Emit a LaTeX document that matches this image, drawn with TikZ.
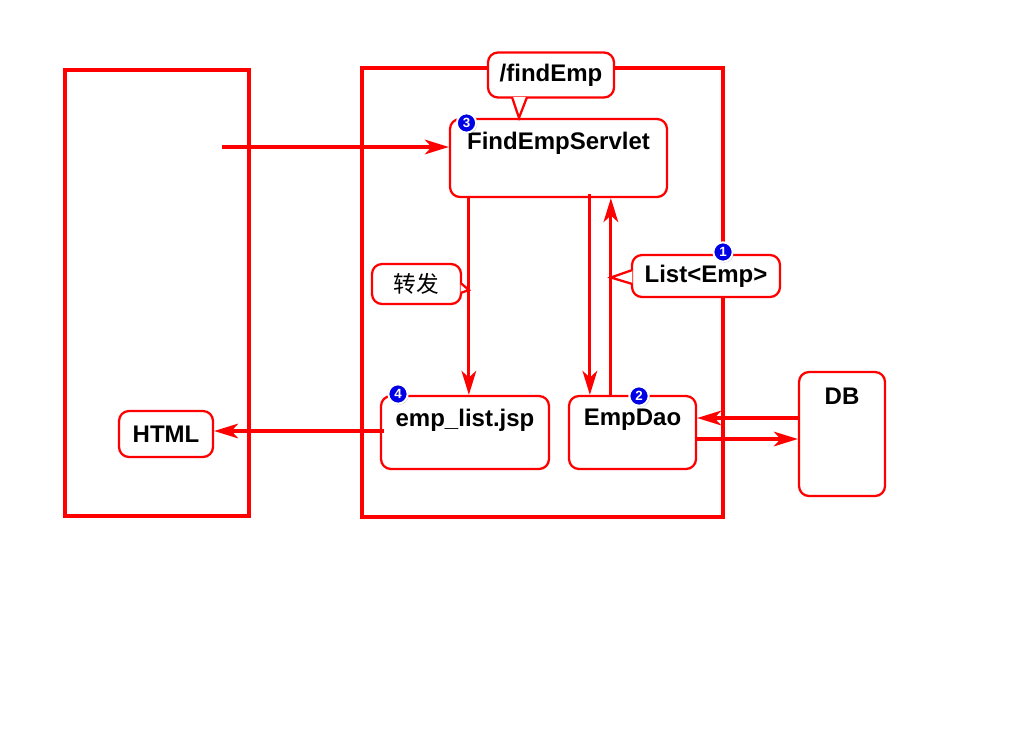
\documentclass[tikz,border=0pt]{standalone}
\usepackage{fontspec}
\setmainfont{Liberation Sans}
\newfontfamily\cjkfont{Noto Sans CJK SC}
\usepackage{tikz}
\usetikzlibrary{calc}
\usetikzlibrary{positioning}
\usetikzlibrary{arrows.meta}
\usetikzlibrary{shadows}
\definecolor{lineColor}{HTML}{FF0000}
\definecolor{badgeColor}{HTML}{0000E6}

\begin{document}
\begin{tikzpicture}[
		x=0.75pt, y=-0.75pt,
		arrow/.style={-{Stealth[length=18pt, width=11pt, inset=5pt]}, draw=lineColor, line width=2.3pt},
		frame/.style={rectangle, draw=lineColor, line width=2.6pt},
		box/.style={rectangle, rounded corners=7.5pt, draw=lineColor, line width=1.7pt, fill=white, font=\bfseries\fontsize{18}{21}\selectfont},
		title/.style={anchor=center, yshift=-19pt, font=\bfseries\fontsize{18}{21}\selectfont},
		note/.style={box, inner sep=0pt},
		pointer/.style={draw=lineColor, fill=white, line width=1.7pt, line join=miter},
		badge/.style={circle, fill=badgeColor, draw=white, line width=1.5pt, inner sep=0pt, minimum size=14.5pt, text=white, font=\bfseries\fontsize{10}{10}\selectfont, drop shadow={shadow xshift=0.8pt, shadow yshift=-0.8pt, opacity=0.45}},
	]
	\useasboundingbox (0,0) rectangle (1024,728);
	% Frames
	\node[frame, minimum width=138pt, minimum height=334.5pt] (browser) at (157,293) {};
	\node[frame, minimum width=270.75pt, minimum height=336.75pt] (server) at (542.5,292.5) {};
	% Component boxes
	\node[box, minimum width=162.75pt, minimum height=58.5pt, label={[title]north:FindEmpServlet}] (servlet) at (558.5,158) {};
	\node[box, minimum width=126pt, minimum height=54.75pt, label={[title]north:emp\_list.jsp}] (jsp page) at (465,432.5) {};
	\node[box, minimum width=95.25pt, minimum height=54.75pt, label={[title]north:EmpDao}] (dao) at (632.5,432.5) {};
	\node[box, minimum width=64.5pt, minimum height=93pt, label={[title]north:DB}] (db) at (842,434) {};
	\node[box, minimum width=70.5pt, minimum height=34.5pt] (html page) at (166,434) {HTML};
	% Arrows
	\coordinate (request start) at (222,147);
	\draw[arrow] (request start) -- (request start -| servlet.west);
	\coordinate (forward start) at ($(servlet.south west)+(20,0)$);
	\draw[arrow] (forward start) -- (forward start |- jsp page.north);
	\coordinate (call start) at ($(servlet.south west)+(141,-4)$);
	\draw[arrow] (call start) -- (call start |- dao.north);
	\coordinate (return start) at ($(dao.north west)+(43,0)$);
	\draw[arrow] (return start) -- (return start |- servlet.south);
	\coordinate (query start) at ($(db.west)+(0,-16)$);
	\draw[arrow] (query start) -- (query start -| dao.east);
	\coordinate (fetch start) at ($(dao.east)+(0,6.5)$);
	\draw[arrow] (fetch start) -- (fetch start -| db.west);
	\coordinate (render start) at ($(jsp page.west)+(4,-1.5)$);
	\draw[arrow] (render start) -- (render start -| html page.east);
	% Callouts
	\node[note, minimum width=94.5pt, minimum height=33.75pt] (url note) at (551,75) {/findEmp};
	\filldraw[pointer] ($(url note.south)+(-39,-1.5)$) -- ($(servlet.north)+(-39.5,0)$) -- ($(url note.south)+(-24,-1.5)$);
	\node[note, minimum width=111pt, minimum height=31.5pt] (result note) at (706,276) {List<Emp>};
	\filldraw[pointer] ($(result note.west)+(1.5,-6)$) -- ($(return start |- result note.west)+(0,1.5)$) -- ($(result note.west)+(1.5,8)$);
	\node[note, minimum width=66.75pt, minimum height=30pt, font=\cjkfont\fontsize{17}{20}\selectfont] (forward note) at (416.5,284) {转发};
	\filldraw[pointer] ($(forward note.east)+(-1.5,-1)$) -- ($(forward start |- forward note.east)+(0,6)$) -- ($(forward note.east)+(-1.5,9)$);
	% Badges
	\node[badge] (badge 1) at (723,252) {1};
	\node[badge] (badge 2) at (639,396) {2};
	\node[badge] (badge 3) at (466.5,123) {3};
	\node[badge] (badge 4) at (398,394) {4};
\end{tikzpicture}
\end{document}
